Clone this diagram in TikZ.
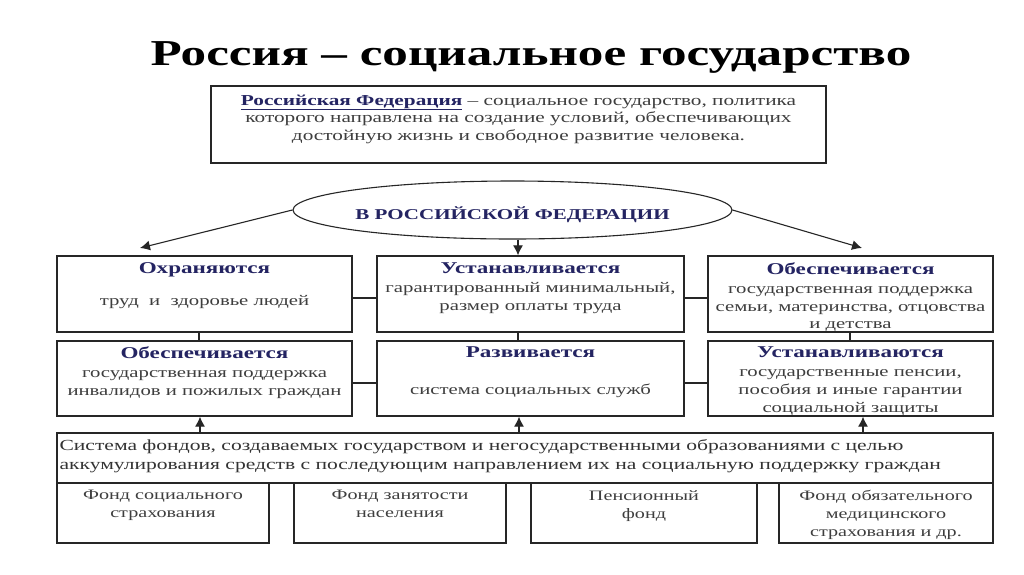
\documentclass[tikz,border=0pt]{standalone}
\usepackage{fontspec}
\setmainfont{Liberation Serif}[FakeStretch=1.4]
\usetikzlibrary{shapes.geometric,positioning,arrows.meta}
\definecolor{navy}{RGB}{36,36,98}
\definecolor{ink}{RGB}{62,62,62}
\newcommand{\hdr}[1]{{\fontsize{16.5}{18}\selectfont\bfseries\color{navy}#1}}
\tikzset{
 box/.style
  = {rectangle, draw=black!85, line width=1.3pt, inner sep=0pt},
 ell/.style
  = {ellipse, draw=black!85, line width=1.1pt, minimum width=439pt, minimum height=58pt},
 txt/.style
  = {align=center, inner sep=0pt, text=ink, font=\fontsize{14.8}{18}\selectfont},
 ftxt/.style
  = {txt, font=\fontsize{14.4}{18}\selectfont},
 l/.style
  = {draw=black!85, line width=1.1pt},
 ar/.style
  = {draw=black!85, line width=1.1pt, -{Latex[length=10pt,width=10pt]}},
}

\begin{document}
\begin{tikzpicture}[x=1pt,y=-1pt]
\useasboundingbox[fill=white] (0,0) rectangle (1024,574);

% Title
\node[font=\fontsize{36.5}{40}\selectfont\bfseries] (title) at (531,57) {Россия – социальное государство};

% Definition box
\node[box, minimum width=615pt, minimum height=77pt] (T) at (518.5,124.5) {};
\node[txt, font=\fontsize{15.2}{17.5}\selectfont, below=9pt of T.north] (Ttext)
  {\textcolor{navy}{\bfseries\underline{Российская Федерация}} – социальное государство, политика\\
   которого направлена на создание условий, обеспечивающих\\
   достойную жизнь и свободное развитие человека.};

% Ellipse
\node[ell] (E) at (512.5,210) {};
\node[font=\fontsize{15}{18}\selectfont\bfseries, text=navy] (Etext) at (512.5,215) {В РОССИЙСКОЙ ФЕДЕРАЦИИ};

% First row
\node[box, minimum width=295pt, minimum height=76pt] (L1) at (204.5,294) {};
\node[box, minimum width=307pt, minimum height=76pt] (M1) at (530.5,294) {};
\node[box, minimum width=285pt, minimum height=76pt] (R1) at (850.5,294) {};
\node[txt, below=7pt of L1.north] {\hdr{Охраняются}\\[14pt] труд\ \ и\ \ здоровье людей};
\node[txt, below=7pt of M1.north] {\hdr{Устанавливается}\\[1pt] гарантированный минимальный,\\ размер оплаты труда};
\node[txt, font=\fontsize{14.8}{17.5}\selectfont, below=7pt of R1.north] {\hdr{Обеспечивается}\\[2pt] государственная поддержка\\ семьи, материнства, отцовства\\ и детства};

% Second row
\node[box, minimum width=295pt, minimum height=75pt] (L2) at (204.5,378.5) {};
\node[box, minimum width=307pt, minimum height=75pt] (M2) at (530.5,378.5) {};
\node[box, minimum width=285pt, minimum height=75pt] (R2) at (850.5,378.5) {};
\node[txt, below=6pt of L2.north] {\hdr{Обеспечивается}\\[1pt] государственная поддержка\\ инвалидов и пожилых граждан};
\node[txt, below=6pt of M2.north] {\hdr{Развивается}\\[19pt] система социальных служб};
\node[txt, below=6pt of R2.north] {\hdr{Устанавливаются}\\[1pt] государственные пенсии,\\ пособия и иные гарантии\\ социальной защиты};

% System of funds
\node[box, minimum width=936pt, minimum height=50pt] (S) at (525,458) {};
\node[txt, align=left, text=black!80, font=\fontsize{15.4}{19}\selectfont, below right=7pt and 3pt of S.north west]
  {Система фондов, создаваемых государством и негосударственными образованиями с целью\\
   аккумулирования средств с последующим направлением их на социальную поддержку граждан};

% Funds
\node[box, minimum width=212pt, minimum height=60pt] (F1) at (163,513) {};
\node[box, minimum width=212pt, minimum height=60pt] (F2) at (400,513) {};
\node[box, minimum width=226pt, minimum height=60pt] (F3) at (644,513) {};
\node[box, minimum width=214pt, minimum height=60pt] (F4) at (886,513) {};
\node[ftxt, below=8pt of F1.north] {Фонд социального\\ страхования};
\node[ftxt, below=8pt of F2.north] {Фонд занятости\\ населения};
\node[ftxt, below=8pt of F3.north] {Пенсионный\\ фонд};
\node[ftxt, below=8pt of F4.north] {Фонд обязательного\\ медицинского\\ страхования и др.};

% Arrows from the ellipse
\coordinate (tL) at (140,248);
\coordinate (tR) at (862,248);
\coordinate (tM) at ([xshift=-12.5pt]M1.north);
\draw[ar] (E.west) -- (tL);
\draw[ar] (E.east) -- (tR);
\draw[ar] (tM |- E.south) -- (tM);

% Links between boxes
\draw[l] ([yshift=-4pt]L1.east) -- ([yshift=-4pt]M1.west);
\draw[l] ([yshift=-4pt]M1.east) -- ([yshift=-4pt]R1.west);
\draw[l] ([yshift=-4.5pt]L2.east) -- ([yshift=-4.5pt]M2.west);
\draw[l] ([yshift=-4.5pt]M2.east) -- ([yshift=-4.5pt]R2.west);
\draw[l] ([xshift=-5.5pt]L1.south) -- ([xshift=-5.5pt]L2.north);
\draw[l] ([xshift=-12.5pt]M1.south) -- ([xshift=-12.5pt]M2.north);
\draw[l] ([xshift=-0.5pt]R1.south) -- ([xshift=-0.5pt]R2.north);

% Arrows from the funds
\coordinate (aL) at ([xshift=-4.5pt]L2.south);
\coordinate (aM) at ([xshift=-11.5pt]M2.south);
\coordinate (aR) at ([xshift=12.5pt]R2.south);
\draw[ar] (aL |- S.north) -- (aL);
\draw[ar] (aM |- S.north) -- (aM);
\draw[ar] (aR |- S.north) -- (aR);

\end{tikzpicture}
\end{document}
